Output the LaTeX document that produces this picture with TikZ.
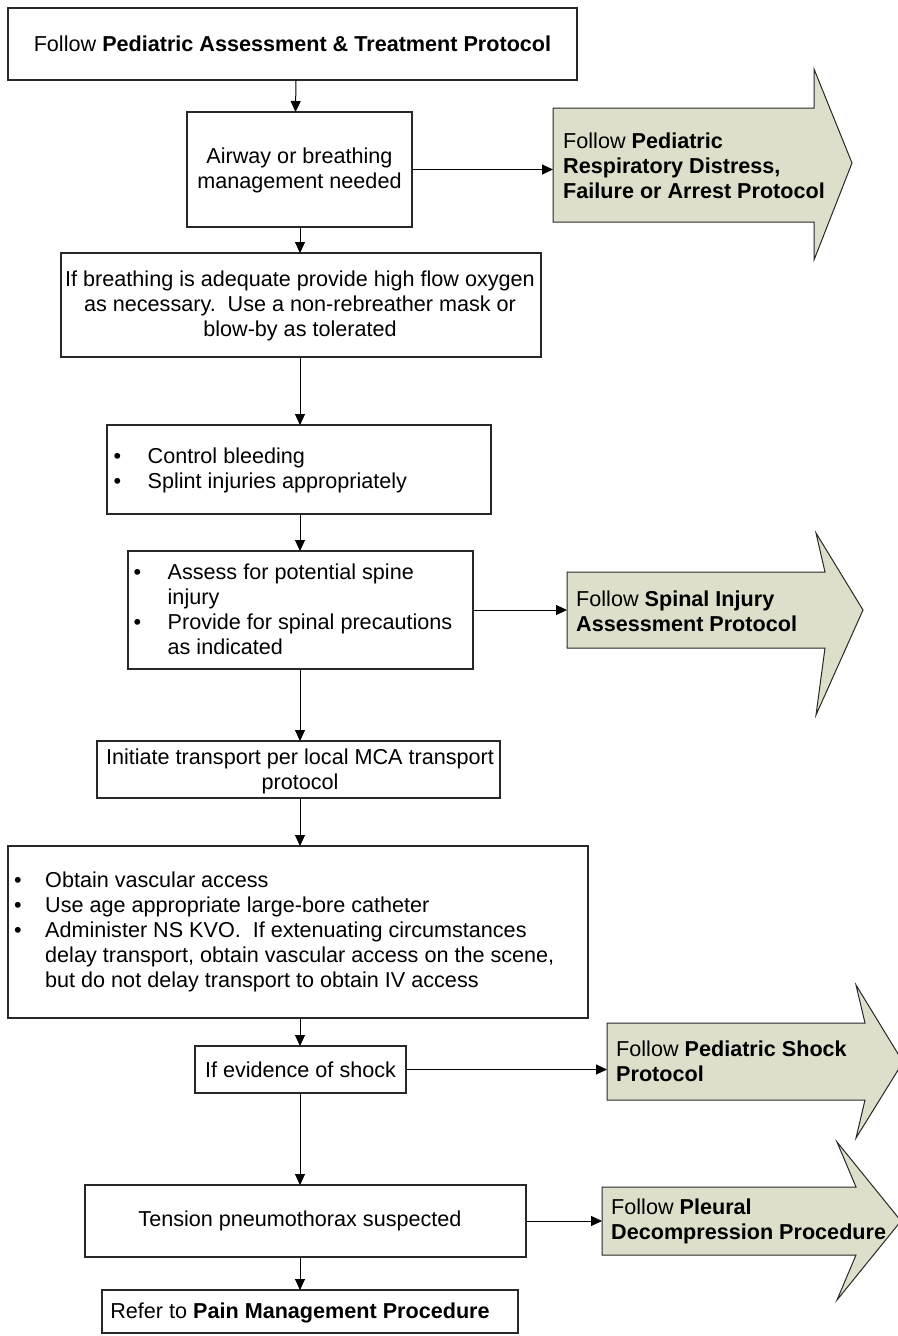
\documentclass[tikz,border=0pt]{standalone}
\usepackage{fontspec}
\setmainfont{Liberation Sans}
\usetikzlibrary{arrows.meta,calc,fit}
\definecolor{protofill}{RGB}{221,223,203}
\definecolor{edge}{RGB}{40,40,40}
\newcommand\flowfont{\fontsize{21.6}{25}\selectfont}
\newcommand\bul{\textbullet}

\begin{document}
\begin{tikzpicture}[x=1pt,y=-1pt,
  box/.style={draw=edge,line width=1.1pt,inner sep=0pt,outer sep=0pt},
  area/.style={inner sep=0pt,outer sep=0pt},
  txt/.style={inner sep=0pt,font=\flowfont,align=center},
  ltxt/.style={inner sep=0pt,font=\flowfont,align=left,anchor=west},
  conn/.style={draw=black,line width=1pt,-{Triangle[length=11pt,width=10pt]}},
  bigarrow/.style={draw=edge,line width=1pt,fill=protofill,line join=miter},
]
\useasboundingbox (0,0) rectangle (897,1336);
\fill[white] (0,0) rectangle (897,1336);

% main column of steps
\node[box,fit={(8,8)(577,80)}] (top) {};
\node[box,fit={(187,112)(412,227)}] (airway) {};
\node[box,fit={(61,253)(541,357)}] (oxygen) {};
\node[box,fit={(107,425)(491,514)}] (bleed) {};
\node[box,fit={(128,551)(473,669)}] (spine) {};
\node[box,fit={(97,741)(500,798)}] (transport) {};
\node[box,fit={(8,846)(588,1018)}] (access) {};
\node[box,fit={(195,1046)(406,1093)}] (shock) {};
\node[box,fit={(85,1185)(526,1257)}] (tension) {};
\node[box,fit={(102,1290)(518,1333)}] (pain) {};

\coordinate (axis) at (300,0);

% referral arrows to other protocols
\draw[bigarrow] (553,108) -- (814,108) -- (814,69) -- (852,163) -- (814,260) -- (814,222) -- (553,222) -- cycle;
\node[area,fit={(553,108)(814,222)}] (resp) {};
\draw[bigarrow] (567,572) -- (825,572) -- (816,533) -- (863,610) -- (816,715) -- (825,648) -- (567,648) -- cycle;
\node[area,fit={(567,572)(825,648)}] (spinal) {};
\draw[bigarrow] (607,1023) -- (865,1023) -- (856,985) -- (903,1062) -- (856,1138) -- (865,1100) -- (607,1100) -- cycle;
\node[area,fit={(607,1023)(865,1100)}] (shockproto) {};
\draw[bigarrow] (602,1187) -- (856,1187) -- (837,1142) -- (901,1221) -- (837,1300) -- (856,1255) -- (602,1255) -- cycle;
\node[area,fit={(602,1187)(856,1255)}] (pleural) {};

% texts
\node[txt] (toptext) at (292.5,44) {Follow \textbf{Pediatric Assessment \& Treatment Protocol}};
\node[txt] (airwaytext) at (299.5,170) {Airway or breathing\\management needed};
\node[txt] (oxygentext) at (300,306) {If breathing is adequate provide high flow oxygen\\as necessary.\ \ Use a non-rebreather mask or\\blow-by as tolerated};
\node[ltxt] (bleedtext) at (113.5,471) {\begin{tabular}{@{}p{34pt}@{}l@{}}\bul & Control bleeding\\ \bul & Splint injuries appropriately\end{tabular}};
\node[ltxt] (spinetext) at (133.5,612) {\begin{tabular}{@{}p{34pt}@{}l@{}}\bul & Assess for potential spine\\ & injury\\ \bul & Provide for spinal precautions\\ & as indicated\end{tabular}};
\node[txt] (transporttext) at (300,771) {Initiate transport per local MCA transport\\protocol};
\node[ltxt] (accesstext) at (14,932) {\begin{tabular}{@{}p{31pt}@{}l@{}}\bul & Obtain vascular access\\ \bul & Use age appropriate large-bore catheter\\ \bul & Administer NS KVO.\ \ If extenuating circumstances\\ & delay transport, obtain vascular access on the scene,\\ & but do not delay transport to obtain IV access\end{tabular}};
\node[txt] (shocktext) at (300.5,1070) {If evidence of shock};
\node[txt] (tensiontext) at (300,1221) {Tension pneumothorax suspected};
\node[txt] (paintext) at (300,1313) {Refer to \textbf{Pain Management Procedure}};

\node[ltxt] (resptext) at (563,166) {Follow \textbf{Pediatric}\\\textbf{Respiratory Distress,}\\\textbf{Failure or Arrest Protocol}};
\node[ltxt] (spinaltext) at (576,611) {Follow \textbf{Spinal Injury}\\\textbf{Assessment Protocol}};
\node[ltxt] (shockprototext) at (616,1061) {Follow \textbf{Pediatric Shock}\\\textbf{Protocol}};
\node[ltxt] (pleuraltext) at (611,1221) {Follow \textbf{Pleural}\\\textbf{Decompression Procedure}};

% connectors down the main column
\draw[conn] ([xshift=3.5pt]top.south) -- ([xshift=-4pt]airway.north);
\draw[conn] (airway.south -| axis) -- (oxygen.north -| axis);
\draw[conn] (oxygen.south -| axis) -- (bleed.north -| axis);
\draw[conn] (bleed.south -| axis) -- (spine.north -| axis);
\draw[conn] (spine.south -| axis) -- (transport.north -| axis);
\draw[conn] (transport.south -| axis) -- (access.north -| axis);
\draw[conn] (access.south -| axis) -- (shock.north -| axis);
\draw[conn] (shock.south -| axis) -- (tension.north -| axis);
\draw[conn] (tension.south -| axis) -- (pain.north -| axis);

% connectors to the referral arrows
\draw[conn] (airway.east) -- (airway.east -| resp.west);
\draw[conn] (spine.east) -- (spine.east -| spinal.west);
\draw[conn] (shock.east) -- (shock.east -| shockproto.west);
\draw[conn] (tension.east) -- (tension.east -| pleural.west);
\end{tikzpicture}
\end{document}
